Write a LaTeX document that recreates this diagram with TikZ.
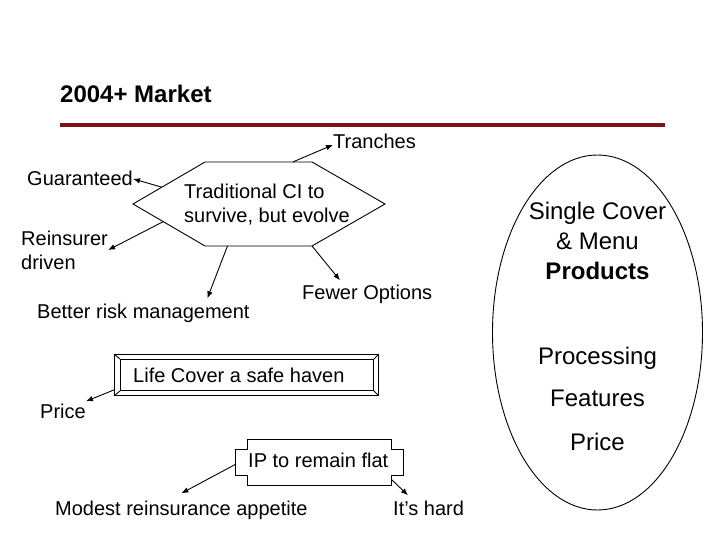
\documentclass[tikz,border=0pt]{standalone}
\usepackage{fontspec}
\setmainfont{Liberation Sans}
\usepackage{xcolor}
\usetikzlibrary{shapes.geometric,calc,arrows.meta}
\definecolor{rulered}{RGB}{128,18,22}

\begin{document}
\begin{tikzpicture}[
  x=1pt, y=-1pt,
  every node/.style={inner sep=0pt},
  lbl/.style={font=\fontsize{20}{24}\selectfont},
  big/.style={font=\fontsize{24}{30}\selectfont},
  outline/.style={draw, line width=0.9pt},
  link/.style={draw, -{Latex[length=7pt,width=5.5pt]}, line width=0.9pt}
  ]

\useasboundingbox (0,0) rectangle (720,540);

% Title and rule
\node (title) [anchor=base west, font=\fontsize{24}{28}\selectfont\bfseries] at (60,103) {2004+ Market};
\coordinate (ruleL) at (60,125);
\coordinate (ruleR) at (665,125);
\draw[rulered, line width=3.5pt] (ruleL) -- (ruleR);

% Hexagon
\draw[outline] (205,162) coordinate (hexA) -- (312,162) coordinate (hexB)
  -- (385,204) coordinate (hexC) -- (312,246) coordinate (hexD)
  -- (205,246) coordinate (hexE) -- (133,204) coordinate (hexF) -- cycle;
\node (trad) [lbl, align=left, anchor=north west] at (184,183.5) {Traditional CI to\\survive, but evolve};

\node (tranches) [lbl, anchor=base west] at (333,149) {Tranches};
\node (guar) [lbl, anchor=base west] at (27,186) {Guaranteed};
\node (reins) [lbl, align=left, anchor=north west] at (21,230.5) {Reinsurer\\driven};
\node (better) [lbl, anchor=base west] at (37,318) {Better risk management};
\node (fewer) [lbl, anchor=base west] at (302,299) {Fewer Options};

\draw[link] ($(hexA)!0.82!(hexB)$) -- ([yshift=-3pt]tranches.west);
\draw[link] ($(hexF)!0.4!(hexA)$) -- (guar.east);
\draw[link] ($(hexF)!0.42!(hexE)$) -- (reins.east);
\draw[link] ($(hexE)!0.21!(hexD)$) -- ([xshift=64pt,yshift=5pt]better.north);
\draw[link] (hexD) -- ([xshift=38pt,yshift=4pt]fewer.north west);

% Life cover box
\node (life) [outline, minimum width=264pt, minimum height=41pt, anchor=north west] at (114,354) {};
\draw[outline] ([shift={(6,5)}]life.north west) coordinate (lifeA)
  rectangle ([shift={(-5,-5)}]life.south east) coordinate (lifeC);
\draw[outline] (life.north west) -- (lifeA);
\draw[outline] (life.north east) -- (lifeA -| lifeC);
\draw[outline] (life.south east) -- (lifeC);
\draw[outline] (life.south west) -- (lifeC -| lifeA);
\node (lifetxt) [lbl, anchor=base west] at (133,382) {Life Cover a safe haven};

\node (price) [lbl, anchor=base west] at (40,418) {Price};
\draw[link] ([yshift=6pt]life.south west) -- ([yshift=2pt]price.north east);

% IP plaque
\draw[outline] (247,439) -- (391,439) -- (391,449) coordinate (ipNE)
  -- (403,449) -- (403,475) -- (391,475) coordinate (ipSE) -- (391,485)
  -- (247,485) -- (247,475) -- (235,475) coordinate (ipSW)
  -- (235,449) coordinate (ipNW) -- (247,449) -- cycle;
\node (ip) [lbl, anchor=base west] at (248,467) {IP to remain flat};

\node (modest) [lbl, anchor=base west] at (55,515) {Modest reinsurance appetite};
\node (hard) [lbl, anchor=base west] at (393,515) {It's hard};

\draw[link] ($(ipNW)!0.6!(ipSW)$) -- ([yshift=7pt]modest.north);
\draw[link] ([yshift=-4pt]ipSE) -- ([shift={(15pt,5pt)}]hard.north west);

% Products ellipse
\node (prod) [outline, ellipse, minimum width=210pt, minimum height=355pt] at (597.5,332.5) {};
\node (prodhead) [big, align=center, anchor=north] at (597.5,201.5) {Single Cover\\\& Menu\\\textbf{Products}};
\node (proc) [big, anchor=base] at (597.5,364) {Processing};
\node (feat) [big, anchor=base] at (597.5,406) {Features};
\node (price2) [big, anchor=base] at (597.5,450) {Price};

\end{tikzpicture}
\end{document}
